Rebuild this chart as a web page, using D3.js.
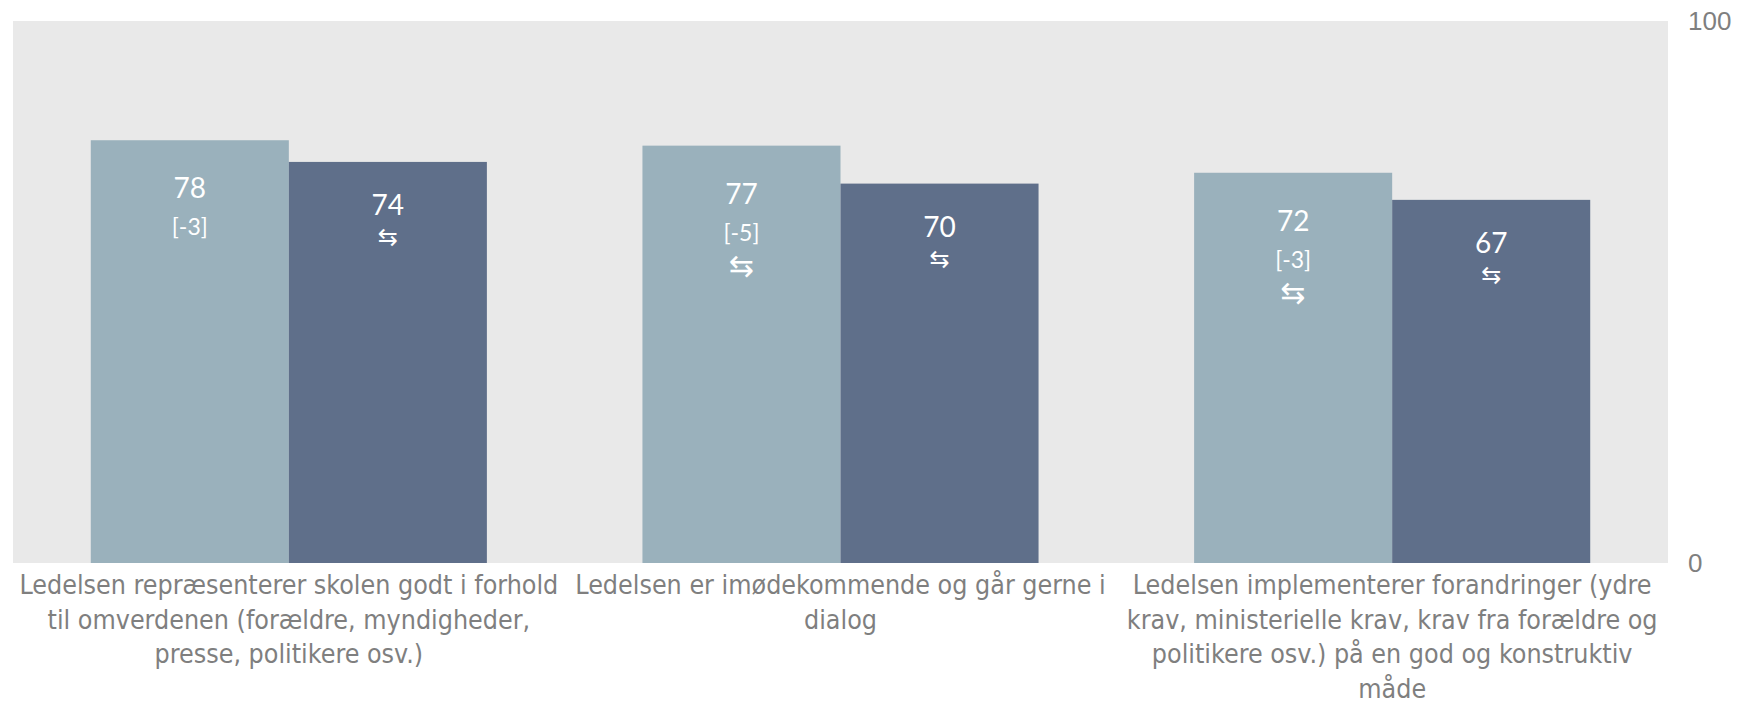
<!DOCTYPE html>
<html>
<head>
<meta charset="utf-8">
<script src="https://cdn.jsdelivr.net/npm/d3@7"></script>
<style>
  html, body { margin: 0; padding: 0; background: #ffffff; }
  svg { display: block; }
</style>
</head>
<body>
<svg id="chart" width="1747" height="705"></svg>
<script>
// ---- data ----
const categories = [
  "Ledelsen repræsenterer skolen godt i forhold\ntil omverdenen (forældre, myndigheder,\npresse, politikere osv.)",
  "Ledelsen er imødekommende og går gerne i\ndialog",
  "Ledelsen implementerer forandringer (ydre\nkrav, ministerielle krav, krav fra forældre og\npolitikere osv.) på en god og konstruktiv\nmåde"
];
const seriesNames = ["Serie 1", "Serie 2"];
const valuesA = [78, 77, 72];
const valuesB = [74, 70, 67];
const diffLabelsA = ["[-3]", "[-5]", "[-3]"];
const arrowsA = ["", "⇆", "⇆"];
const arrowsB = ["⇆", "⇆", "⇆"];
const yTicks = [0, 100];

// ---- layout ----
const plot = { left: 13, right: 1668, top: 21, bottom: 563 };
const colors = ["#9ab1bc", "#5f6f8a"];
const textGrey = "#7f7f7f";

const svg = d3.select("#chart");

const x0 = d3.scaleBand()
  .domain(categories)
  .range([plot.left, plot.right])
  .paddingInner(0.282)
  .paddingOuter(0.141);

const x1 = d3.scaleBand()
  .domain(seriesNames)
  .range([0, x0.bandwidth()])
  .padding(0);

const y = d3.scaleLinear().domain([0, 100]).range([plot.bottom, plot.top]);

// background
svg.append("rect")
  .attr("x", plot.left).attr("y", plot.top)
  .attr("width", plot.right - plot.left)
  .attr("height", plot.bottom - plot.top)
  .attr("fill", "#e9e9e9");

const rows = categories.map((c, i) => ({
  cat: c,
  items: [
    { s: seriesNames[0], v: valuesA[i], diff: diffLabelsA[i], arrow: arrowsA[i], k: 0 },
    { s: seriesNames[1], v: valuesB[i], diff: "", arrow: arrowsB[i], k: 1 }
  ]
}));

const g = svg.selectAll("g.grp").data(rows).join("g")
  .attr("class", "grp")
  .attr("transform", d => `translate(${x0(d.cat)},0)`);

const bars = g.selectAll("g.bar").data(d => d.items).join("g").attr("class", "bar");

bars.append("rect")
  .attr("x", d => x1(d.s))
  .attr("y", d => y(d.v))
  .attr("width", x1.bandwidth())
  .attr("height", d => y(0) - y(d.v))
  .attr("fill", d => colors[d.k]);

const labelFont = "Lato, 'Open Sans', sans-serif";

bars.append("text")
  .attr("x", d => x1(d.s) + x1.bandwidth() / 2)
  .attr("y", d => y(d.v) + (d.k === 0 ? 58 : 53))
  .attr("text-anchor", "middle")
  .attr("fill", "#ffffff")
  .style("font-family", labelFont)
  .style("font-size", "28px")
  .text(d => d.v);

bars.filter(d => d.diff !== "").append("text")
  .attr("x", d => x1(d.s) + x1.bandwidth() / 2)
  .attr("y", d => y(d.v) + 95)
  .attr("text-anchor", "middle")
  .attr("fill", "#ffffff")
  .style("font-family", labelFont)
  .style("font-size", "23px")
  .text(d => d.diff);

bars.filter(d => d.arrow !== "").append("text")
  .attr("x", d => x1(d.s) + x1.bandwidth() / 2)
  .attr("y", d => y(d.v) + (d.k === 0 ? 120 : 75))
  .attr("text-anchor", "middle")
  .attr("dominant-baseline", "central")
  .attr("fill", "#ffffff")
  .style("font-family", "'DejaVu Sans', sans-serif")
  .style("font-size", d => d.k === 0 ? "30px" : "24px")
  .text(d => d.arrow);

// category labels
const catFont = "'DejaVu Sans Condensed', sans-serif";
svg.append("g").selectAll("text").data(categories).join("text")
  .attr("transform", d => `translate(${x0(d) + x0.bandwidth() / 2},594)`)
  .attr("text-anchor", "middle")
  .attr("fill", textGrey)
  .style("font-family", catFont)
  .style("font-size", "26.6px")
  .each(function(d) {
    const t = d3.select(this);
    d.split("\n").forEach((line, i) => {
      t.append("tspan")
        .attr("x", 0)
        .attr("dy", i === 0 ? 0 : 34.5)
        .text(line);
    });
  });

// y axis on right
const yAxis = d3.axisRight(y).tickValues(yTicks).tickSize(0).tickPadding(20);
const ax = svg.append("g")
  .attr("transform", `translate(${plot.right},0)`)
  .call(yAxis)
  .attr("font-family", "'Liberation Sans', Arial, sans-serif")
  .attr("font-size", 26);
ax.select(".domain").remove();
ax.selectAll("text")
  .attr("fill", textGrey)
  .style("font-family", "'Liberation Sans', Arial, sans-serif")
  .style("font-size", "26px");
</script>
</body>
</html>
